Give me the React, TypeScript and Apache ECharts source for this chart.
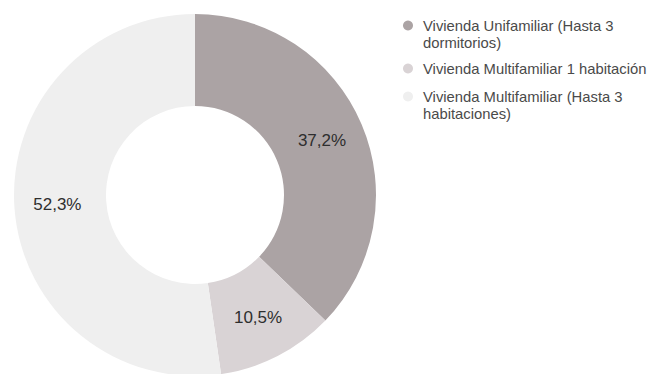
import React, { useEffect, useRef } from "react";
import * as echarts from "echarts";

const categories = [
  "Vivienda Unifamiliar (Hasta 3 dormitorios)",
  "Vivienda Multifamiliar 1 habitación",
  "Vivienda Multifamiliar (Hasta 3 habitaciones)",
];
const legendText = [
  "Vivienda Unifamiliar (Hasta 3\ndormitorios)",
  "Vivienda Multifamiliar 1 habitación",
  "Vivienda Multifamiliar (Hasta 3\nhabitaciones)",
];
const values = [37.2, 10.5, 52.3];
const colors = ["#aba3a4", "#d9d3d5", "#efefef"];

const FONT = "'Liberation Sans', Arial, sans-serif";

export default function App() {
  const ref = useRef<HTMLDivElement>(null);
  useEffect(() => {
    if (!ref.current) return;
    const chart = echarts.init(ref.current, null, { renderer: "svg" });
    const lineH = 17;
    const legendTops = [0, 60, 71];
    const legends = categories.map((name, i) => {
      const multi = legendText[i].includes("\n");
      return {
        show: true,
        orient: "vertical",
        left: 403,
        top: legendTops[i],
        padding: 0,
        itemWidth: 20,
        itemHeight: 10,
        icon: "circle",
        selectedMode: false,
        data: [{ name, itemStyle: { color: colors[i] } }],
        formatter: () => (multi ? " \n" + legendText[i] : legendText[i]),
        textStyle: {
          fontFamily: FONT,
          fontSize: 14.8,
          color: "#4a4a4a",
          lineHeight: lineH,
        },
      };
    });
    chart.setOption({
      animation: false,
      backgroundColor: "#ffffff",
      legend: legends,
      series: [
        {
          type: "pie",
          center: [195, 195],
          radius: [89, 181],
          startAngle: 90,
          clockwise: true,
          avoidLabelOverlap: false,
          emphasis: { disabled: true },
          label: {
            show: true,
            position: "inside",
            fontFamily: FONT,
            fontSize: 17,
            color: "#2e2e2e",
            formatter: (p: any) => `${Number(p.value).toFixed(1).replace(".", ",")}%`,
          },
          labelLine: { show: false },
          data: categories.map((name, i) => ({
            name,
            value: values[i],
            itemStyle: { color: colors[i] },
          })),
        },
      ],
    });
    return () => chart.dispose();
  }, []);
  return (
    <div
      ref={ref}
      style={{ position: "fixed", left: 0, top: 0, width: 655, height: 374 }}
    />
  );
}
